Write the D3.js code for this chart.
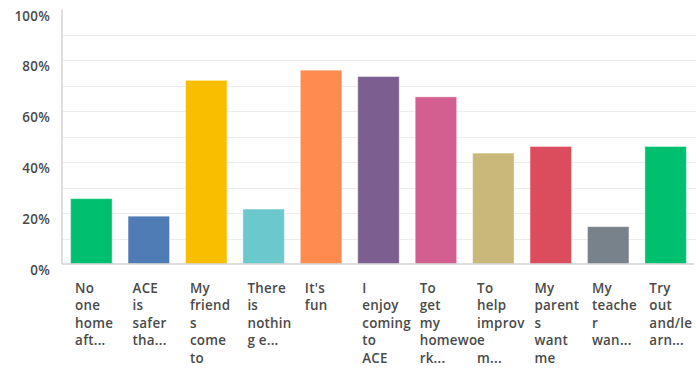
<!DOCTYPE html>
<html>
<head>
<meta charset="utf-8">
<script src="https://cdn.jsdelivr.net/npm/d3@7"></script>
<style>
    body { margin: 0; background: #fff; }
    svg { display: block; font-family: "Open Sans", sans-serif; }
    .grid line { stroke: #ececec; stroke-width: 1.2; }
    .axis-line { stroke: #d3d3d3; stroke-width: 1.5; }
    .tick-label { fill: #4a4a4a; font-size: 13.4px; font-weight: 600; letter-spacing: 0.25px; }
</style>
</head>
<body>
<svg id="chart" width="696" height="369"></svg>
<script>
'use strict';

// labels as shown under each bar (already wrapped / truncated)
const categories = [
    ['No', 'one', 'home', 'aft...'],
    ['ACE', 'is', 'safer', 'tha...'],
    ['My', 'friend', 's', 'come', 'to'],
    ['There', 'is', 'nothin', 'g e...'],
    ["It's", 'fun'],
    ['I', 'enjoy', 'coming', 'to', 'ACE'],
    ['To', 'get', 'my', 'homewo', 'rk...'],
    ['To', 'help', 'improv', 'e', 'm...'],
    ['My', 'parent', 's', 'want', 'me'],
    ['My', 'teache', 'r', 'wan...'],
    ['Try', 'out', 'and/le', 'arn...']
];

const values = [25.7, 18.8, 72.2, 21.6, 76.2, 73.7, 65.7, 43.6, 46.2, 14.7, 46.2];

const colors = ['#00bf6f', '#507cb6', '#f9be00', '#6bc8cd', '#ff8b4f', '#7d5e90',
    '#d25f90', '#c9b87a', '#db4d5c', '#78828a', '#00bf6f'];

const yTicks = [0, 20, 40, 60, 80, 100];

const svg = d3.select('#chart');
const plotLeft = 62;
const plotRight = 695;
const plotTop = 9.6;
const plotBottom = 264;

const x = d3.scaleBand()
    .domain(d3.range(categories.length))
    .range([plotLeft, plotRight])
    .paddingInner(0.277)
    .paddingOuter(0.15);

const y = d3.scaleLinear().domain([0, 100]).range([plotBottom, plotTop]);

// light gridlines every 10%
svg.append('g')
    .attr('class', 'grid')
    .selectAll('line')
    .data(d3.range(10, 100, 10))
    .enter().append('line')
    .attr('x1', plotLeft)
    .attr('x2', 696)
    .attr('y1', d => Math.round(y(d)) + 0.5)
    .attr('y2', d => Math.round(y(d)) + 0.5);

// bars
svg.append('g')
    .selectAll('rect')
    .data(values)
    .enter().append('rect')
    .attr('x', (d, i) => x(i))
    .attr('y', d => y(d))
    .attr('width', x.bandwidth())
    .attr('height', d => plotBottom - y(d))
    .attr('fill', (d, i) => colors[i])
    .attr('stroke', 'rgba(255,255,255,0.45)')
    .attr('stroke-width', 1);

// axis lines
svg.append('line')
    .attr('class', 'axis-line')
    .attr('x1', plotLeft).attr('x2', plotLeft)
    .attr('y1', plotTop).attr('y2', plotBottom);

svg.append('line')
    .attr('class', 'axis-line')
    .attr('x1', plotLeft).attr('x2', 694)
    .attr('y1', plotBottom).attr('y2', plotBottom);

// y labels sit a bit below their value
svg.append('g')
    .selectAll('text')
    .data(yTicks)
    .enter().append('text')
    .attr('class', 'tick-label')
    .attr('x', 50)
    .attr('y', d => y(d) + 11)
    .attr('text-anchor', 'end')
    .text(d => d + '%');

// x labels, one tspan per line
const xLabels = svg.append('g')
    .selectAll('text')
    .data(categories)
    .enter().append('text')
    .attr('class', 'tick-label')
    .attr('x', (d, i) => x(i) + 4.5)
    .attr('y', 292.5);

xLabels.selectAll('tspan')
    .data(d => d)
    .enter().append('tspan')
    .attr('x', function () { return this.parentNode.getAttribute('x'); })
    .attr('dy', (d, i) => i === 0 ? 0 : 17.6)
    .text(d => d);
</script>
</body>
</html>
